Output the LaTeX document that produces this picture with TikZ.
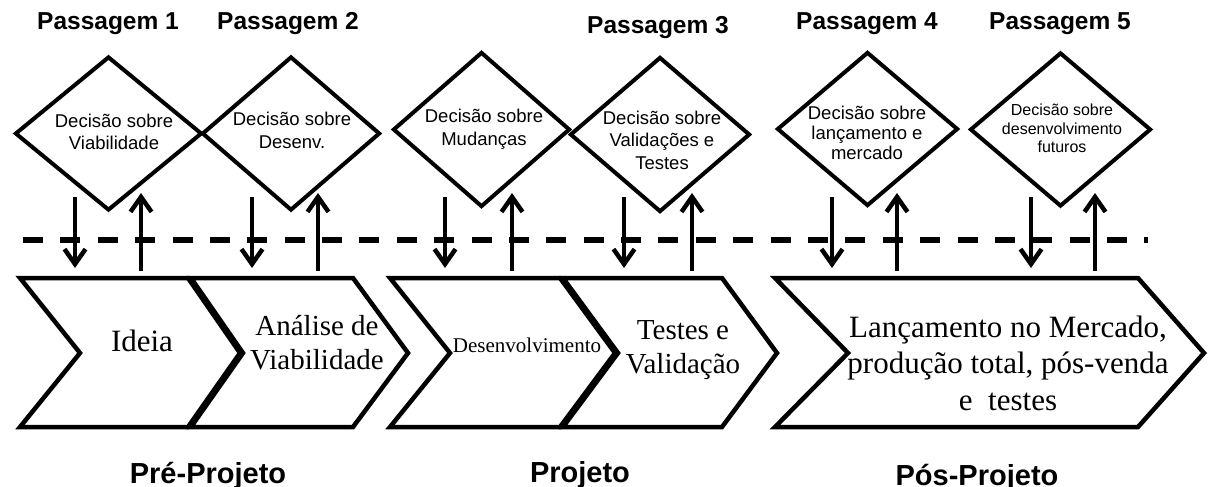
\documentclass[tikz,border=0pt]{standalone}
\usepackage{fontspec}
\setmainfont{Liberation Serif}
\setsansfont{Liberation Sans}
\usetikzlibrary{shapes.geometric,arrows.meta}

\begin{document}
\begin{tikzpicture}[x=1pt,y=-1pt,
  stage/.style={draw,line width=4.5pt,fill=white,line join=miter},
  stagetext/.style={align=center,inner sep=0pt},
  gate/.style={diamond,draw,line width=4pt,inner sep=0pt,
    minimum width=180pt,minimum height=154pt},
  gatetext/.style={align=center,inner sep=0pt,
    font=\sffamily\fontsize{18.5}{22.5}\selectfont},
  gatetitle/.style={font=\sffamily\bfseries\fontsize{24.5}{28}\selectfont,inner sep=0pt},
  phase/.style={font=\sffamily\bfseries\fontsize{29}{33}\selectfont,inner sep=0pt,anchor=base},
  flow/.style={line width=4pt,-{Straight Barb[length=15pt,width=21pt,line width=4.5pt]}},
  gateline/.style={line width=5.5pt,dash pattern=on 20pt off 17.38pt}
]
\useasboundingbox (0,0) rectangle (1210,487);
\fill[white] (0,0) rectangle (1210,487);

% gate titles
\node[gatetitle] (t1) at (108,24) {Passagem 1};
\node[gatetitle] (t2) at (288,24) {Passagem 2};
\node[gatetitle] (t3) at (658,28) {Passagem 3};
\node[gatetitle] (t4) at (867,24) {Passagem 4};
\node[gatetitle] (t5) at (1060,24) {Passagem 5};

% decision diamonds
\node[gate,minimum width=187pt] (g1) at (108.5,133.5) {};
\node[gate,minimum width=178pt] (g2) at (291,133.5) {};
\node[gate,minimum width=177pt,minimum height=155pt] (g3) at (481.5,129.5) {};
\node[gate,minimum height=155pt] (g4) at (660,134.5) {};
\node[gate,minimum width=181pt] (g5) at (867.5,129) {};
\node[gate,minimum width=181pt] (g6) at (1060.5,129.5) {};

\node[gatetext] (g1-text) at (114,132) {Decisão sobre\\Viabilidade};
\node[gatetext] (g2-text) at (292,130.5) {Decisão sobre\\Desenv.};
\node[gatetext] (g3-text) at (484,129.5) {Decisão sobre\\Mudanças};
\node[gatetext] (g4-text) at (662,140) {Decisão sobre\\Validações e\\Testes};
\node[gatetext,font=\sffamily\fontsize{18.5}{20}\selectfont] (g5-text) at (867,133) {Decisão sobre\\lançamento e\\mercado};
\node[gatetext,font=\sffamily\fontsize{16}{18.5}\selectfont] (g6-text) at (1062,128.5) {Decisão sobre\\desenvolvimento\\futuros};

% dashed gate line
\coordinate (gl-start) at (23,240);
\coordinate (gl-end) at (1148,240);
\draw[gateline] (gl-start) -- (gl-end);

% process stages (chevrons)
\draw[stage] (20,278) -- (188,278) -- (240,353) -- (188,427) -- (20,427) -- (80,353) -- cycle;
\draw[stage] (191,278) -- (353,278) -- (408,353) -- (353,427) -- (191,427) -- (243,353) -- cycle;
\draw[stage] (390,278) -- (560,278) -- (615,353) -- (560,427) -- (390,427) -- (450,353) -- cycle;
\draw[stage] (563,278) -- (722,278) -- (777,353) -- (722,427) -- (563,427) -- (618,353) -- cycle;
\draw[stage] (775,278) -- (1138,278) -- (1204,353) -- (1138,427) -- (775,427) -- (848,353) -- cycle;

\node[stagetext,font=\fontsize{31}{36}\selectfont] (s1) at (142,341) {Ideia};
\node[stagetext,font=\fontsize{29}{34}\selectfont] (s2) at (317,343) {Análise de\\Viabilidade};
\node[stagetext,font=\fontsize{21}{25}\selectfont] (s3) at (527,345) {Desenvolvimento};
\node[stagetext,font=\fontsize{29}{34.5}\selectfont] (s4) at (683,350) {Testes e\\Validação};
\node[stagetext,font=\fontsize{31}{36.5}\selectfont] (s5) at (1008,363) {Lançamento no Mercado,\\produção total, pós-venda\\e\ \ testes};

% flows between gates and stages
\foreach \i/\xd/\xu in {1/75/141, 2/252/318, 3/445/512, 4/624/692, 5/832/897, 6/1031/1095} {
  \coordinate (g\i-out) at (\xd,197);
  \coordinate (s\i-in) at (\xd,268);
  \coordinate (s\i-out) at (\xu,271);
  \coordinate (g\i-in) at (\xu,193);
  \draw[flow] (g\i-out) -- (s\i-in);
  \draw[flow] (s\i-out) -- (g\i-in);
}

% phase labels
\node[phase] (p1) at (208,483) {Pré-Projeto};
\node[phase] (p2) at (580,482) {Projeto};
\node[phase] (p3) at (977,485) {Pós-Projeto};
\end{tikzpicture}
\end{document}
